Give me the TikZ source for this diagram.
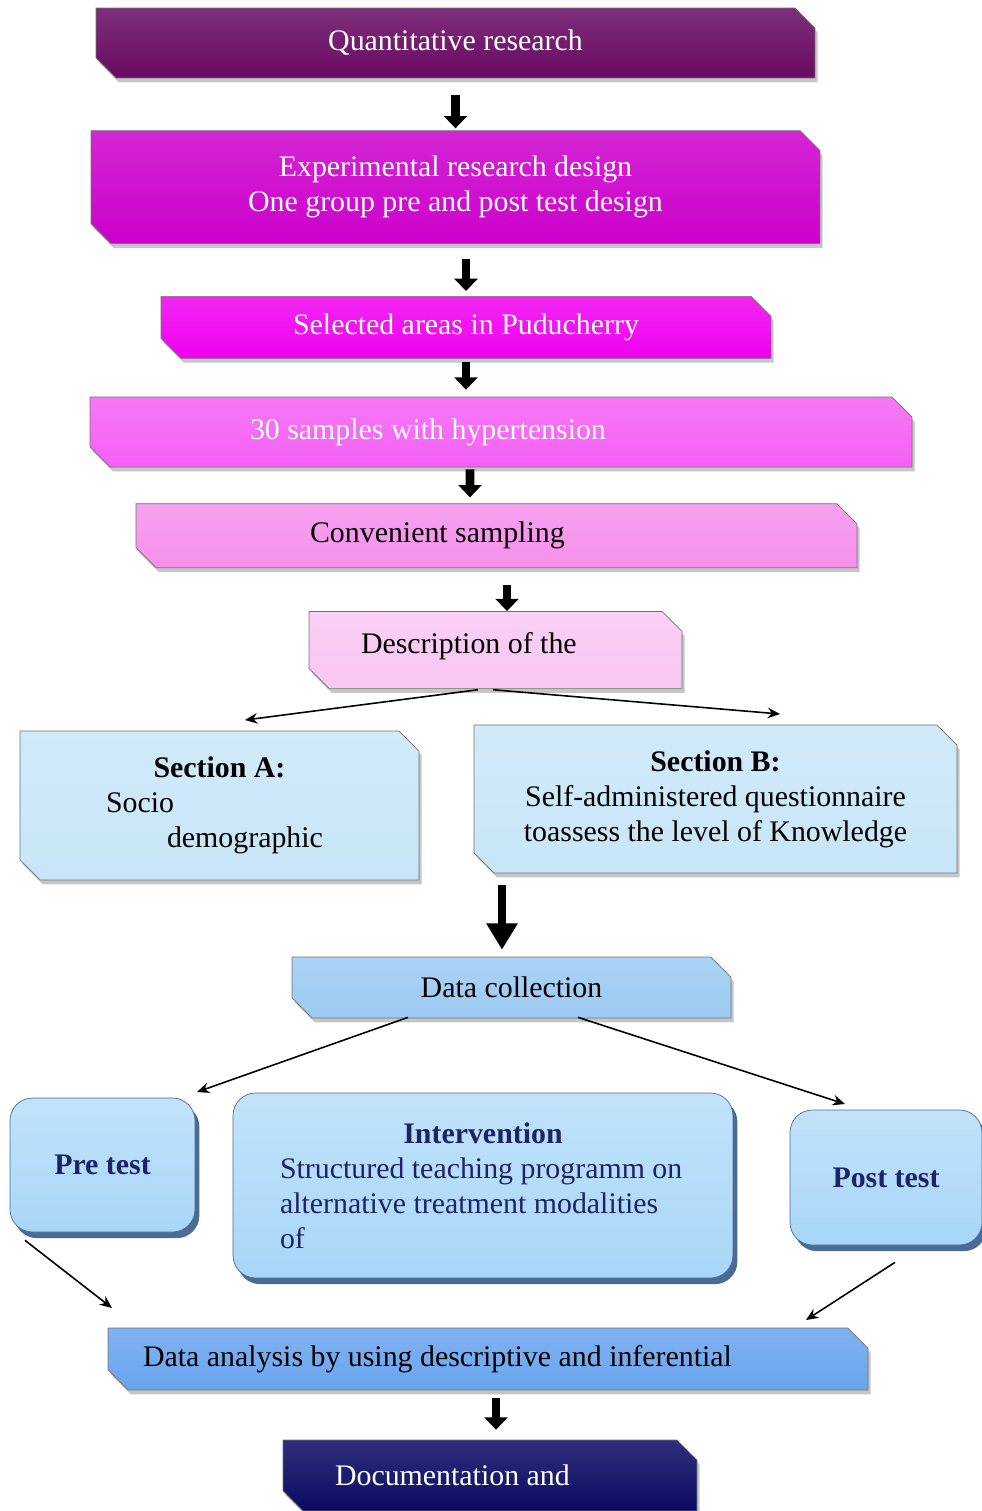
\documentclass[tikz,border=0pt]{standalone}
\usepackage{fontspec}
\setmainfont{Liberation Serif}
\usetikzlibrary{positioning}
\usetikzlibrary{calc}
\usetikzlibrary{shapes.misc}
\usetikzlibrary{shadows}
\usetikzlibrary{arrows.meta}

\definecolor{quantc}{HTML}{680A62}
\definecolor{designc}{HTML}{CC00CC}
\definecolor{areac}{HTML}{F000F0}
\definecolor{samplec}{HTML}{F560F5}
\definecolor{convc}{HTML}{F590EC}
\definecolor{descc}{HTML}{F8C6F2}
\definecolor{sectc}{HTML}{C8E6F8}
\definecolor{collc}{HTML}{9CCAF2}
\definecolor{testc}{HTML}{A8D6F8}
\definecolor{testedge}{HTML}{4A6C94}
\definecolor{analc}{HTML}{6AA4EE}
\definecolor{docc}{HTML}{0A0A64}
\definecolor{navyc}{HTML}{1A2466}

\begin{document}
\begin{tikzpicture}[x=0.02cm, y=-0.02cm, font=\fontsize{17}{20}\selectfont,
	bvnode/.style={chamfered rectangle, chamfered rectangle corners={north east,south west}, chamfered rectangle xsep=0.2cm, chamfered rectangle ysep=0.2cm, draw=black!55, thin, top color=#1!85!white, bottom color=#1, drop shadow={shadow xshift=1.5pt, shadow yshift=-2.5pt, opacity=0.45}, inner sep=2pt, align=center},
	rdnode/.style={rectangle, rounded corners=0.45cm, draw=testedge, top color=testc!70!white, bottom color=testc, drop shadow={shadow xshift=2.5pt, shadow yshift=-3.5pt, fill=testedge, opacity=1}, text=navyc, align=center},
	bigarrow/.style={line width=5pt, -{Triangle[width=13pt,length=7pt]}},
	thinarrow/.style={line width=0.9pt, -{Stealth[length=7pt,width=6pt]}}]
	\useasboundingbox (0,0) rectangle (982,1511);

	% main column
	\node[bvnode=quantc, text=white, minimum width=14.38cm, minimum height=1.4cm] (quant) at (455.5,43) {Quantitative research};
	\node[bvnode=designc, text=white, minimum width=14.58cm, minimum height=2.26cm] (design) [below=1.04cm of quant] {Experimental research design\\One group pre and post test design};
	\node[bvnode=areac, text=white, minimum width=12.2cm, minimum height=1.24cm] (areas) [below=1.04cm of design, xshift=0.21cm] {Selected areas in Puducherry};
	\node[bvnode=samplec, text=white, minimum width=16.44cm, minimum height=1.4cm, text width=14cm, align=flush left] (samples) [below=0.76cm of areas, xshift=0.7cm] {\hspace*{1.98cm}30 samples with hypertension};
	\node[bvnode=convc, minimum width=14.42cm, minimum height=1.28cm, text width=13cm, align=flush left] (conv) [below=0.72cm of samples, xshift=-0.09cm] {\hspace*{2.77cm}Convenient sampling};
	\node[bvnode=descc, minimum width=7.46cm, minimum height=1.54cm, text width=6cm, align=flush left] (desc) [below=0.86cm of conv, xshift=-0.02cm] {\hspace*{0.31cm}Description of the\vphantom{\rule[-8pt]{0pt}{1pt}}};

	% tool sections
	\node[bvnode=sectc, minimum width=7.98cm, minimum height=2.98cm, text width=7cm, align=flush left] (secA) at (219.5,805.5) {\makebox[7cm]{\textbf{Section A:}}\\\hspace*{1.23cm}Socio\\\hspace*{2.45cm}demographic};
	\node[bvnode=sectc, minimum width=9.66cm, minimum height=2.96cm] (secB) at (715.5,799) {\textbf{Section B:}\\Self-administered questionnaire\\toassess the level of Knowledge};

	\node[bvnode=collc, minimum width=8.78cm, minimum height=1.22cm] (coll) at (511.5,987.5) {Data collection};

	% tests and intervention
	\node[rdnode, minimum width=3.7cm, minimum height=2.68cm] (pre) at (102.5,1165) {\textbf{Pre test}};
	\node[rdnode, minimum width=10cm, minimum height=3.7cm, text width=9cm, align=flush left] (interv) at (483,1185.5) {\makebox[9cm]{\textbf{Intervention}}\\\hspace*{0.44cm}Structured teaching programm on\\\hspace*{0.44cm}alternative treatment modalities\\\hspace*{0.44cm}of};
	\node[rdnode, minimum width=3.84cm, minimum height=2.7cm] (post) at (886,1177.5) {\textbf{Post test}};

	\node[bvnode=analc, minimum width=15.2cm, minimum height=1.24cm, text width=14cm, align=flush left] (anal) at (488,1359) {\hspace*{0.1cm}Data analysis by using descriptive and inferential};
	\node[bvnode=docc, text=white, minimum width=8.28cm, minimum height=1.42cm, text width=7cm, align=flush left] (doc) at (490,1475.5) {\hspace*{0.4cm}Documentation and};

	% thick arrows
	\draw[bigarrow, shorten <=0.34cm, shorten >=0.04cm] (quant.south) -- (design.north);
	\draw[bigarrow, shorten <=0.3cm, shorten >=0.1cm] (areas.north |- design.south) -- (areas.north);
	\draw[bigarrow, shorten <=0.06cm, shorten >=0.14cm] (areas.south) -- (areas.south |- samples.north);
	\draw[bigarrow, shorten <=0.04cm, shorten >=0.12cm] ($(samples.south)+(-31,0)$) -- ($(conv.north)+(-26.5,0)$);
	\draw[bigarrow, shorten <=0.34cm] ($(conv.south)+(10.5,0)$) -- ($(desc.north)+(11.5,0)$);
	\draw[bigarrow, -{Triangle[width=17pt,length=15pt]}, shorten <=0.24cm, shorten >=0.14cm] ($(coll.north |- secB.south)+(-9.5,0)$) -- ($(coll.north)+(-9.5,0)$);
	\draw[bigarrow, shorten <=0.16cm, shorten >=0.2cm] ($(anal.south)+(8,0)$) -- ($(doc.north)+(6,0)$);

	% thin arrows
	\coordinate (endA) at (245,720);
	\coordinate (endB) at (780,714);
	\coordinate (endPre) at (197,1092);
	\coordinate (endPost) at (845,1104);
	\coordinate (endL) at (112,1308);
	\coordinate (endR) at (806,1320);
	\draw[thinarrow] ($(desc.south)+(-17.5,1)$) -- (endA);
	\draw[thinarrow] ($(desc.south)+(-2.5,1)$) -- (endB);
	\draw[thinarrow] ($(coll.south)+(-103.5,-1)$) -- (endPre);
	\draw[thinarrow] ($(coll.south)+(66.5,-1)$) -- (endPost);
	\draw[thinarrow] ($(pre.south)+(-77.5,8)$) -- (endL);
	\draw[thinarrow] ($(post.south)+(9,17)$) -- (endR);
\end{tikzpicture}
\end{document}
